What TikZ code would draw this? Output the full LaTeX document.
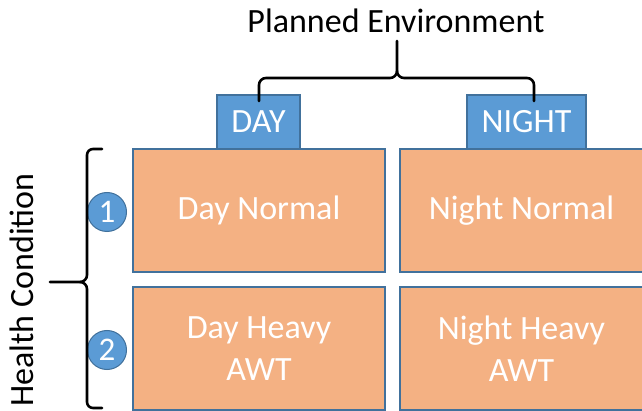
\documentclass[tikz,border=0pt]{standalone}
\usepackage{fontspec}
\setmainfont{Carlito}
\definecolor{cellfill}{HTML}{F4B183}
\definecolor{tabfill}{HTML}{5B9BD5}
\definecolor{edgeblue}{HTML}{41719C}
\tikzset{
  cell/.style={draw=edgeblue, line width=1.2pt, fill=cellfill, minimum width=252pt, minimum height=123pt,
    text=white, font=\fontsize{34}{42}\selectfont, align=center, inner sep=0pt},
  tab/.style={draw=edgeblue, line width=1.2pt, fill=tabfill, minimum height=54pt,
    text=white, font=\fontsize{34}{40}\selectfont, inner sep=0pt},
  badge/.style={circle, draw=edgeblue, line width=1pt, fill=tabfill, minimum size=39pt, inner sep=0pt,
    text=white, font=\fontsize{33}{38}\selectfont},
  label/.style={text=black, font=\fontsize{34}{40}\selectfont, inner sep=0pt},
  brace/.style={draw=black, line width=2.6pt, line cap=round, line join=round}
}
\begin{document}
\begin{tikzpicture}[x=1pt, y=-1pt]
\useasboundingbox (0,0) rectangle (642,411);
% header tabs
\node[tab, minimum width=83pt] (day) at (258.5,122) {DAY};
\node[tab, minimum width=119pt] (night) at (526.5,122) {NIGHT};
% grid of cells
\node[cell] (dn) at (259,210.5) {Day Normal};
\node[cell, minimum width=243pt] (nn) at (521.5,210.5) {Night Normal};
\node[cell] (dh) at (259,348.5) {Day Heavy\\AWT};
\node[cell, minimum width=243pt] (nh) at (521.5,348.5) {Night Heavy\\AWT};
% row badges
\node[badge] (b1) at (107,212) {1};
\node[badge] (b2) at (107,350) {2};
% axis titles
\node[label] (env) at (396,21) {Planned Environment};
\node[label, rotate=90] (hc) at (22,290) {Health Condition};
% top brace
\coordinate (tl) at (259,101);
\coordinate (tr) at (534,101);
\coordinate (tm) at (397,41);
\draw[brace] (tl) -- (259,85) to[out=90,in=180] (266,78) -- (390,78) to[out=0,in=-90] (397,71) -- (tm);
\draw[brace] (tr) -- (534,85) to[out=90,in=0] (527,78) -- (404,78) to[out=180,in=-90] (397,71);
% left brace
\coordinate (lt) at (102,149);
\coordinate (lb) at (102,408);
\coordinate (lm) at (50,282);
\draw[brace] (lt) -- (93,149) to[out=180,in=90] (87,155) -- (87,275) to[out=-90,in=0] (80,282) -- (lm);
\draw[brace] (lb) -- (93,408) to[out=180,in=-90] (87,402) -- (87,289) to[out=90,in=0] (80,282);
\end{tikzpicture}
\end{document}
